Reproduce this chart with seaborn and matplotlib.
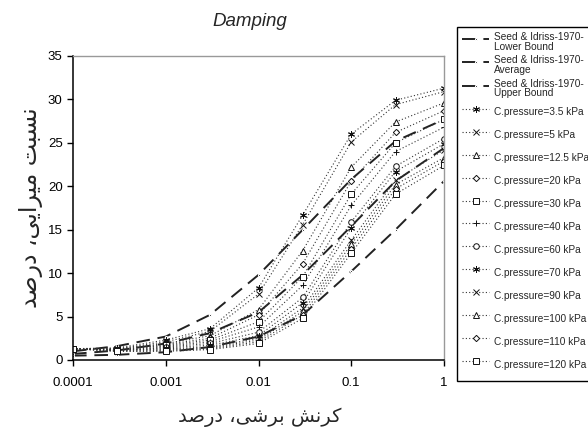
import matplotlib
matplotlib.use("Agg")
import matplotlib.pyplot as plt
import seaborn as sns

# estilo base, depois fontes (set_theme reescreve font.family)
sns.set_theme(style="white")
plt.rcParams['font.family'] = ['Liberation Sans', 'DejaVu Sans']

# deformação cisalhante (%)
strain = [0.0001, 0.0003, 0.001, 0.003, 0.01, 0.03, 0.1, 0.3, 1]
strain_ticks = [0.0001, 0.001, 0.01, 0.1, 1]
strain_tick_labels = ['0.0001', '0.001', '0.01', '0.1', '1']

# curvas de referência Seed & Idriss (1970)
seed_lower = [0.5, 0.6, 0.9, 1.5, 2.7, 5.2, 10.2, 15.0, 20.6]
seed_average = [0.7, 1.1, 1.9, 3.1, 5.5, 9.8, 15.4, 20.6, 24.4]
seed_upper = [1.0, 1.6, 2.7, 5.2, 9.8, 15.0, 20.8, 25.2, 27.7]
seed_labels = ['Seed & Idriss-1970-\nLower Bound',
               'Seed & Idriss-1970-\nAverage',
               'Seed & Idriss-1970-\nUpper Bound']

# amortecimento (%) por pressão confinante
pressures = ['3.5', '5', '12.5', '20', '30', '40',
             '60', '70', '90', '100', '110', '120']
damping_3_5 = [1.3, 1.4, 2.3, 3.6, 8.3, 16.7, 26.0, 29.9, 31.3]
damping_5 = [1.3, 1.3, 2.1, 3.3, 7.6, 15.6, 25.1, 29.4, 30.9]
damping_12_5 = [1.3, 1.3, 1.9, 2.8, 5.8, 12.6, 22.2, 27.4, 29.6]
damping_20 = [1.3, 1.2, 1.8, 2.5, 5.2, 11.1, 20.6, 26.2, 28.7]
damping_30 = [1.3, 1.2, 1.7, 2.3, 4.4, 9.6, 19.1, 25.0, 27.7]
damping_40 = [1.3, 1.2, 1.6, 2.1, 3.8, 8.6, 17.8, 24.0, 26.8]
damping_60 = [1.3, 1.1, 1.5, 1.9, 3.2, 7.2, 15.9, 22.3, 25.5]
damping_70 = [1.3, 1.1, 1.4, 1.7, 2.8, 6.6, 15.2, 21.7, 24.9]
damping_90 = [1.3, 1.1, 1.3, 1.5, 2.5, 6.0, 13.8, 20.7, 24.2]
damping_100 = [1.3, 1.1, 1.2, 1.4, 2.3, 5.6, 13.3, 20.2, 23.3]
damping_110 = [1.3, 1.0, 1.1, 1.3, 2.1, 5.2, 12.8, 19.7, 22.9]
damping_120 = [1.3, 1.0, 1.0, 1.2, 1.9, 4.8, 12.3, 19.1, 22.4]
damping_series = [damping_3_5, damping_5, damping_12_5, damping_20,
                  damping_30, damping_40, damping_60, damping_70,
                  damping_90, damping_100, damping_110, damping_120]

# marcadores no estilo do excel (repetem a partir de 60 kPa)
asterisk = (6, 2, 0)
markers = [asterisk, 'x', '^', 'D', 's', '+', 'o',
           asterisk, 'x', '^', 'D', 's']
marker_sizes = [5, 4, 4, 3.2, 3.8, 5, 4, 5, 4, 4, 3.2, 3.8]

# rótulos persas já em formas de apresentação, na ordem visual
ylabel_fa = ('\uFEAA\uFEBB\uFEAD\uFEA9 \u060C\uFBFD\uFBFE\uFE8D\uFEAE'
             '\uFBFF\uFEE3 \uFE96\uFE92\uFEB4\uFEE7')
xlabel_fa = ('\uFEAA\uFEBB\uFEAD\uFEA9 \u060C\uFBFD\uFEB7\uFEAE\uFE91'
             ' \uFEB6\uFEE7\uFEAE\uFB90')

fig = plt.figure(figsize=(5.88, 4.32), dpi=100)
ax = fig.add_axes([73 / 588, 1 - 360 / 432, 371 / 588, 304 / 432])

for vals, lab in zip([seed_lower, seed_average, seed_upper], seed_labels):
    sns.lineplot(x=strain, y=vals, ax=ax, color='#222222', linewidth=1.4,
                 linestyle=(0, (7, 4)), marker='.', markersize=3,
                 label=lab, estimator=None, sort=False)

for vals, p, m, ms in zip(damping_series, pressures, markers, marker_sizes):
    sns.lineplot(x=strain, y=vals, ax=ax, color='#333333', linewidth=0.8,
                 linestyle=(0, (1, 2)), marker=m, markersize=ms,
                 markerfacecolor='white', markeredgecolor='#111111',
                 markeredgewidth=0.7, label=f'C.pressure={p} kPa',
                 estimator=None, sort=False)

ax.set_xscale('log')
ax.set_xlim(0.0001, 1)
ax.set_ylim(0, 35)
ax.set_xticks(strain_ticks)
ax.set_xticklabels(strain_tick_labels)
ax.xaxis.set_minor_locator(matplotlib.ticker.NullLocator())
ax.set_yticks(range(0, 36, 5))
ax.tick_params(axis='both', direction='out', length=4, width=1,
               colors='black', labelsize=9.5, bottom=True, left=True)
ax.tick_params(axis='x', pad=8)

for side in ['left', 'bottom']:
    ax.spines[side].set_color('black')
    ax.spines[side].set_linewidth(1.1)
for side in ['top', 'right']:
    ax.spines[side].set_color('#999999')
    ax.spines[side].set_linewidth(1.0)
ax.grid(False)

ax.set_ylabel(ylabel_fa, fontsize=17, family=['DejaVu Sans'])
ax.yaxis.set_label_coords(-0.08, 0.5)
ax.set_xlabel(xlabel_fa, fontsize=14, family=['DejaVu Sans'])
ax.xaxis.set_label_coords(0.504, -0.158)

fig.text(250 / 588, 1 - 21 / 432, 'Damping', ha='center', va='center',
         fontsize=13.5, style='italic')

handles, labels = ax.get_legend_handles_labels()
ax.legend_.remove()
leg = fig.legend(handles, labels, loc='upper left',
                 bbox_to_anchor=(457 / 588, 1 - 27 / 432),
                 bbox_transform=fig.transFigure, fontsize=7.3,
                 frameon=True, fancybox=False, shadow=False,
                 edgecolor='black', framealpha=1, numpoints=1,
                 handlelength=2.7, handleheight=2.8, handletextpad=0.4,
                 borderpad=0.5, labelspacing=0.2, borderaxespad=0)
leg.get_frame().set_linewidth(1.0)
for t in leg.get_texts():
    t.set_linespacing(0.95)

fig.savefig('out.png', dpi=100)
